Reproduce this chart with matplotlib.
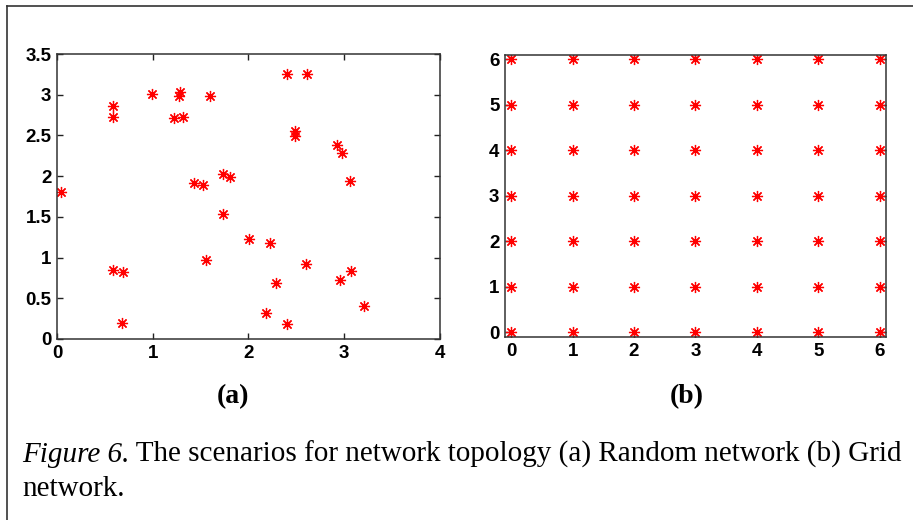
import matplotlib
matplotlib.use("Agg")
import matplotlib.pyplot as plt
from matplotlib.lines import Line2D
from matplotlib.ticker import FormatStrFormatter

# random network node positions
rand_x = [0.04, 0.59, 0.58, 0.99, 1.28, 1.27, 1.22, 1.32, 1.60, 1.43, 1.52, 1.73,
          1.81, 2.40, 2.61, 2.49, 2.49, 2.92, 2.98, 3.06, 1.73, 0.58, 0.69, 0.68,
          1.56, 2.01, 2.22, 2.60, 2.29, 3.07, 2.96, 2.18, 2.40, 3.21]
rand_y = [1.80, 2.86, 2.73, 3.01, 3.03, 2.98, 2.72, 2.73, 2.99, 1.92, 1.89, 2.03,
          1.99, 3.25, 3.25, 2.56, 2.49, 2.38, 2.28, 1.94, 1.53, 0.85, 0.82, 0.20,
          0.97, 1.23, 1.18, 0.92, 0.69, 0.83, 0.72, 0.32, 0.18, 0.40]

# grid network: 7 x 7 nodes
grid_vals = [0, 1, 2, 3, 4, 5, 6]
grid_x = [gx for gx in grid_vals for gy in grid_vals]
grid_y = [gy for gx in grid_vals for gy in grid_vals]

rand_xticks = [0, 1, 2, 3, 4]
rand_yticks = [0, 0.5, 1, 1.5, 2, 2.5, 3, 3.5]

caption_head = "Figure 6."
caption_rest = " The scenarios for network topology (a) Random network (b) Grid"
caption_2 = "network."

plt.rcParams['font.family'] = 'Liberation Sans'
plt.rcParams['font.weight'] = 'bold'

fig = plt.figure(figsize=(9.13, 5.2), dpi=100)

ax1 = fig.add_axes([0.0624, 0.3481, 0.4195, 0.548])
ax2 = fig.add_axes([0.5531, 0.3519, 0.4173, 0.5429])

star = (8, 2, 0)
ax1.plot(rand_x, rand_y, linestyle='none', marker=star, color='red', markersize=8, markeredgewidth=0.9)
ax2.plot(grid_x, grid_y, linestyle='none', marker=star, color='red', markersize=8, markeredgewidth=0.9)

ax1.set_xlim(0, 4)
ax1.set_ylim(0, 3.5)
ax1.set_xticks(rand_xticks)
ax1.set_yticks(rand_yticks)

ax2.set_xlim(-0.1, 6.1)
ax2.set_ylim(-0.1, 6.1)
ax2.set_xticks(grid_vals)
ax2.set_yticks(grid_vals)

for ax in (ax1, ax2):
    ax.xaxis.set_major_formatter(FormatStrFormatter('%g'))
    ax.yaxis.set_major_formatter(FormatStrFormatter('%g'))
    ax.tick_params(direction='in', top=True, right=True, length=4, width=1,
                   color='#222222', labelsize=13.5, pad=4)
    for sp in ax.spines.values():
        sp.set_linewidth(1.1)
        sp.set_color('#333333')

fig.text(233 / 913, 1 - 397 / 520, "(a)", family='Liberation Serif', fontweight='bold',
         fontsize=20, ha='center', va='center')
fig.text(687 / 913, 1 - 397 / 520, "(b)", family='Liberation Serif', fontweight='bold',
         fontsize=20, ha='center', va='center')

t1 = fig.text(22 / 913, 1 - 462 / 520, caption_head, family='Liberation Serif',
              style='italic', fontweight='normal', fontsize=21, ha='left', va='baseline')
ax1.annotate(caption_rest, xy=(1, 0), xycoords=t1, va='bottom', ha='left',
             family='Liberation Serif', fontweight='normal', fontsize=21,
             annotation_clip=False)
fig.text(22 / 913, 1 - 496 / 520, caption_2, family='Liberation Serif', fontweight='normal',
         fontsize=21, ha='left', va='baseline')

# page frame: top and left rules only
fig.add_artist(Line2D([7 / 913, 1.0], [1 - 6 / 520, 1 - 6 / 520], color='#333333', linewidth=1.2))
fig.add_artist(Line2D([7 / 913, 7 / 913], [0.0, 1 - 6 / 520], color='#333333', linewidth=1.2))

fig.savefig("out.png", dpi=100)
